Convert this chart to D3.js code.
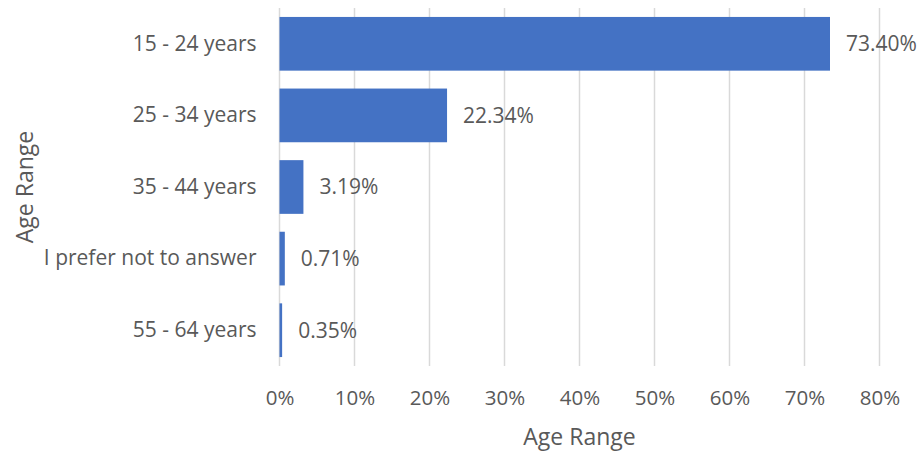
<!DOCTYPE html>
<html><head><meta charset="utf-8">
<script src="https://cdn.jsdelivr.net/npm/d3@7"></script>
<style>body{margin:0;background:#fff}text{font-family:"Open Sans",sans-serif;fill:#595959}</style>
</head><body>
<svg id="c" width="922" height="456"></svg>
<script>
const categories = ["15 - 24 years","25 - 34 years","35 - 44 years","I prefer not to answer","55 - 64 years"];
const values = [73.40, 22.34, 3.19, 0.71, 0.35];
const ticks = [0,10,20,30,40,50,60,70,80];
const axisTitle = "Age Range";

const svg = d3.select("#c");
const m = {l:279.5, r:42.5, t:8, b:90};
const W = 922, H = 456;
const x = d3.scaleLinear().domain([0,80]).range([m.l, W - m.r]);
const y = d3.scaleBand().domain(categories).range([m.t, H - m.b]).paddingInner(0.25).paddingOuter(0.125);

svg.append("g").selectAll("line").data(ticks).join("line")
  .attr("x1", d=>x(d)).attr("x2", d=>x(d)).attr("y1", m.t).attr("y2", H - m.b)
  .attr("stroke", "#d9d9d9").attr("stroke-width", 1.5);

svg.append("g").selectAll("rect").data(values).join("rect")
  .attr("x", x(0)).attr("y", (d,i)=>y(categories[i]))
  .attr("width", d=>x(d)-x(0)).attr("height", y.bandwidth())
  .attr("fill", "#4472C4");

svg.append("g").selectAll("text").data(values).join("text")
  .attr("x", d=>x(d)+16).attr("y", (d,i)=>y(categories[i])+y.bandwidth()/2)
  .attr("dy","0.35em").attr("font-size", 21).text(d=>d.toFixed(2)+"%");

const xa = svg.append("g").attr("transform", `translate(0,${H-m.b})`)
  .call(d3.axisBottom(x).tickValues(ticks).tickFormat(d=>d+"%").tickSize(0).tickPadding(24));
xa.select(".domain").remove();
xa.selectAll("text").attr("font-size", 20.5).style("font-family","'Open Sans',sans-serif").attr("fill","#595959");

const ya = svg.append("g").attr("transform", `translate(${m.l},0)`)
  .call(d3.axisLeft(y).tickSize(0).tickPadding(23));
ya.select(".domain").remove();
ya.selectAll("text").attr("font-size", 21).style("font-family","'Open Sans',sans-serif").attr("fill","#595959");

svg.append("text").attr("x", x(40)).attr("y", 437).attr("dy","0.35em")
  .attr("text-anchor","middle").attr("font-size", 23).text(axisTitle);
svg.append("text").attr("transform", `translate(25,${(m.t + H - m.b)/2}) rotate(-90)`)
  .attr("dy","0.35em").attr("text-anchor","middle").attr("font-size", 23).text(axisTitle);
</script>
</body></html>
